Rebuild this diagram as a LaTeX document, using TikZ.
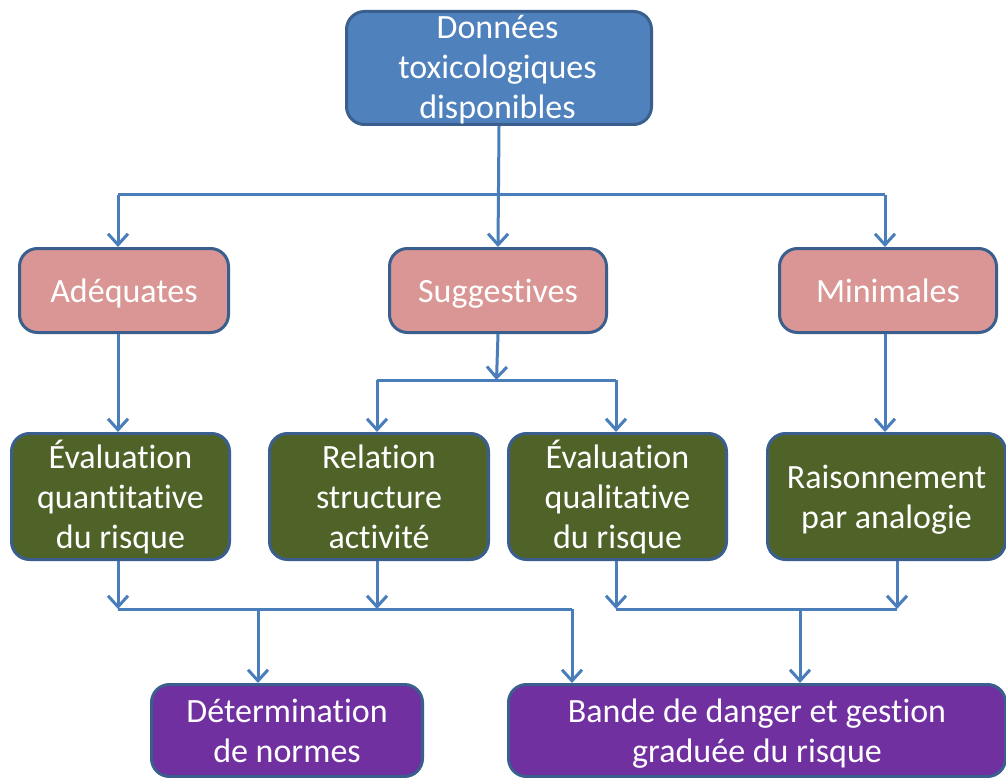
\documentclass[tikz,border=0pt]{standalone}
\usepackage{fontspec}
\setmainfont{Carlito}[Ligatures=NoCommon]
\usetikzlibrary{arrows.meta}
\definecolor{bluefill}{HTML}{4F81BD}
\definecolor{bordercol}{HTML}{3A5F8E}
\definecolor{pinkfill}{HTML}{D99694}
\definecolor{greenfill}{HTML}{4F6228}
\definecolor{purplefill}{HTML}{7030A0}
\definecolor{linecol}{HTML}{4A7EBB}
\newcommand\st{\rule[-8pt]{0pt}{40pt}}
\tikzset{
  box/.style={draw=bordercol, line width=3pt, rounded corners=18pt, anchor=north west,
    text=white, align=center, inner sep=0pt,
    font=\fontsize{34}{40}\selectfont},
  boxtext/.style={text=white, align=center, inner sep=0pt,
    font=\fontsize{34}{40}\selectfont},
  conn/.style={draw=linecol, line width=3pt},
  arr/.style={conn, -{Straight Barb[length=11pt,width=20pt,line width=3pt]}}
}
\begin{document}
\begin{tikzpicture}[x=1pt,y=-1pt]
\path[fill=white,use as bounding box] (0,0) rectangle (1006,778);
% boxes
\node[box, fill=bluefill, minimum width=305pt, minimum height=113pt] (top) at (345,10) {};
\node[boxtext] (toptext) at (497.5,67) {Données\st\\toxicologiques\st\\disponibles\st};
\node[box, fill=pinkfill, minimum width=209pt, minimum height=84pt] (ade) at (18,247) {Adéquates\st};
\node[box, fill=pinkfill, minimum width=217pt, minimum height=84pt] (sug) at (388,247) {Suggestives\st};
\node[box, fill=pinkfill, minimum width=217pt, minimum height=84pt] (mini) at (778,247) {Minimales\st};
\node[box, fill=greenfill, minimum width=218pt, minimum height=126pt] (g1) at (10,432) {Évaluation\st\\quantitative\st\\du risque\st};
\node[box, fill=greenfill, minimum width=219pt, minimum height=126pt] (g2) at (268,432) {Relation\st\\structure\st\\activité\st};
\node[box, fill=greenfill, minimum width=218pt, minimum height=126pt] (g3) at (507,432) {Évaluation\st\\qualitative\st\\du risque\st};
\node[box, fill=greenfill, minimum width=238pt, minimum height=126pt] (g4) at (766,432) {Raisonnement\st\\par analogie\st};
\node[box, fill=purplefill, minimum width=271pt, minimum height=92pt] (p1) at (150,683) {Détermination\st\\de normes\st};
\node[box, fill=purplefill, minimum width=497pt, minimum height=92pt] (p2) at (507,683) {Bande de danger et gestion\st\\graduée du risque\st};
% junction coordinates
\coordinate (ja) at (118,195);
\coordinate (jb) at (885,195);
\coordinate (jc) at (496.5,380);
\coordinate (jcl) at (377,380);
\coordinate (jcr) at (616,380);
\coordinate (jdl) at (118,609);
\coordinate (jdm) at (258,609);
\coordinate (jdr) at (572,609);
\coordinate (jd2) at (377,609);
\coordinate (jel) at (616,609);
\coordinate (jem) at (800,609);
\coordinate (jer) at (897,609);
% top level
\draw[arr] (top.south) -- (sug.north);
\draw[conn] (ja) -- (jb);
\draw[arr] (ja) -- (ja |- ade.north);
\draw[arr] (jb) -- (jb |- mini.north);
% second level
\draw[arr] (ade.south -| ja) -- (g1.north -| ja);
\draw[arr] (sug.south) -- (jc);
\draw[conn] (jcl) -- (jcr);
\draw[arr] (jcl) -- (jcl |- g2.north);
\draw[arr] (jcr) -- (jcr |- g3.north);
\draw[arr] (mini.south -| jb) -- (g4.north -| jb);
% third level
\draw[arr] (g1.south -| jdl) -- (jdl);
\draw[arr] (g2.south -| jd2) -- (jd2);
\draw[conn] (jdl) -- (jdr);
\draw[arr] (jdm) -- (jdm |- p1.north);
\draw[arr] (jdr) -- (jdr |- p2.north);
\draw[arr] (g3.south -| jel) -- (jel);
\draw[arr] (g4.south -| jer) -- (jer);
\draw[conn] (jel) -- (jer);
\draw[arr] (jem) -- (jem |- p2.north);
\end{tikzpicture}
\end{document}
